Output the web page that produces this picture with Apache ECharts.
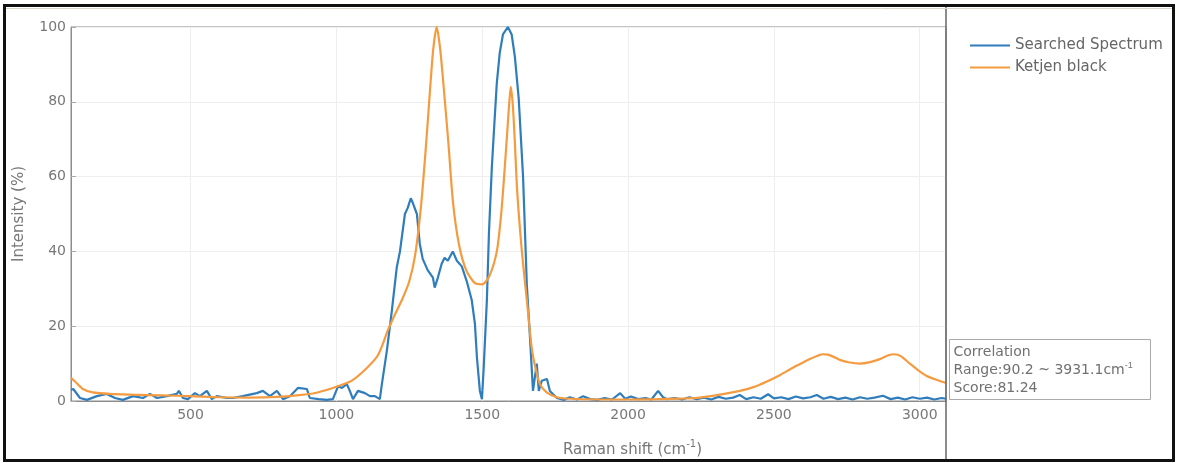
<!DOCTYPE html>
<html lang="en">
<head>
    <meta charset="UTF-8">
    <title>Raman spectrum match</title>
    <script src="https://cdn.jsdelivr.net/npm/echarts@6/dist/echarts.min.js"></script>
    <style>
        html, body { margin: 0; padding: 0; background: #fff; }
    </style>
</head>
<body>
    <div id="main" style="width: 1179px;height: 463px;"></div>
    <script>
        // searched spectrum (blue)
        var searchedShift = [
            90, 98, 121, 145, 179, 213, 241, 268, 303, 337, 361, 385, 419, 453, 460, 474, 491,
            515, 532, 556, 573, 590, 625, 645, 679, 727, 748, 772, 796, 817, 841, 868, 899, 909,
            940, 967, 988, 1006, 1019, 1036, 1046, 1057, 1074, 1098, 1115, 1132, 1149, 1156,
            1173, 1190, 1207, 1218, 1235, 1245, 1255, 1262, 1276, 1286, 1296, 1313, 1331, 1337,
            1348, 1361, 1371, 1382, 1399, 1413, 1430, 1447, 1464, 1475, 1482, 1492, 1499, 1505,
            1516, 1523, 1533, 1540, 1550, 1560, 1571, 1588, 1601, 1612, 1625, 1640, 1653, 1663,
            1674, 1687, 1694, 1704, 1722, 1732, 1756, 1780, 1800, 1825, 1846, 1870, 1895, 1920,
            1945, 1973, 1990, 2010, 2035, 2060, 2080, 2103, 2120, 2134, 2160, 2185, 2210, 2235,
            2260, 2285, 2310, 2335, 2360, 2383, 2405, 2430, 2455, 2480, 2500, 2525, 2550, 2575,
            2600, 2625, 2647, 2670, 2695, 2720, 2745, 2770, 2795, 2820, 2845, 2874, 2900, 2925,
            2950, 2975, 3000, 3025, 3050, 3075, 3090
        ];
        var searchedIntensity = [
            3.0, 3.2, 0.8, 0.3, 1.3, 1.9, 0.8, 0.3, 1.3, 0.8, 1.9, 0.8, 1.3, 1.9, 2.7, 0.8, 0.5,
            2.1, 1.3, 2.7, 0.5, 1.3, 0.8, 0.8, 1.3, 2.1, 2.7, 1.3, 2.7, 0.5, 1.3, 3.5, 3.2, 0.8,
            0.5, 0.3, 0.5, 4.0, 3.5, 4.5, 2.7, 0.5, 2.7, 2.1, 1.3, 1.3, 0.5, 4.5,
            13.4, 24, 35.7, 40, 50, 51.7, 54.2, 53, 50, 42, 38, 35, 33, 30.3,
            33, 36.7, 38.3, 37.5, 40, 37.5, 36, 32, 27, 20.6, 11.5, 2.7, 0.5, 8.8,
            27, 44.8, 62.5, 72, 85, 93, 98, 100, 98, 92, 81, 60, 31, 18,
            2.7, 10, 2.7, 5.4, 5.9, 2.7, 0.8, 0.3, 1.0, 0.4, 1.3, 0.5, 0.3, 0.8,
            0.4, 2.1, 0.6, 1.2, 0.5, 0.8, 0.4, 2.7, 1.0, 0.5, 0.8, 0.4, 1.0, 0.5,
            0.9, 0.4, 1.1, 0.6, 0.9, 1.6, 0.5, 1.0, 0.6, 1.8, 0.7, 1.0, 0.5, 1.2,
            0.7, 1.0, 1.6, 0.6, 1.1, 0.5, 0.9, 0.4, 1.0, 0.6, 0.9, 1.4, 0.5, 0.9,
            0.4, 1.0, 0.6, 0.9, 0.4, 0.8, 0.6
        ];

        // Ketjen black reference (orange)
        var ketjenShift = [
            90.2, 104, 131, 165, 224, 300, 400, 500, 600, 700, 800, 875, 920, 960, 1000, 1050,
            1100, 1143, 1177, 1200, 1228, 1250, 1270, 1290, 1305, 1320, 1332, 1344, 1356, 1370,
            1385, 1400, 1420, 1445, 1475, 1500, 1525, 1550, 1565, 1575, 1585, 1592, 1598, 1605,
            1612, 1620, 1636, 1653, 1670, 1685, 1698, 1720, 1756, 1800, 1900, 2000, 2100, 2200,
            2246, 2300, 2383, 2430, 2476, 2520, 2565, 2600, 2623, 2650, 2668, 2685, 2705, 2726,
            2760, 2794, 2830, 2863, 2895, 2914, 2935, 2966, 2995, 3024, 3060, 3090
        ];
        var ketjenIntensity = [
            6.2, 5.2, 3.2, 2.3, 1.9, 1.7, 1.5, 1.3, 1.0, 0.9, 1.1, 1.6, 2.0, 2.8, 3.8, 5.3,
            8.5, 12.3, 19, 23, 27.6, 32, 39, 52, 66, 82, 94, 100, 94, 82,
            68, 53, 42, 35, 31.5, 31.2, 33.5, 40, 50, 60, 71, 79, 84, 79,
            69, 56, 40, 27, 14, 8, 4.5, 2.4, 1.0, 0.6, 0.4, 0.4, 0.5, 0.7,
            0.9, 1.5, 2.7, 3.7, 5.2, 6.9, 8.9, 10.3, 11.2, 12.1, 12.5, 12.4, 11.8, 11.0,
            10.3, 10.0, 10.4, 11.2, 12.3, 12.5, 12.0, 10.0, 8.2, 6.7, 5.6, 4.8
        ];

        var xTicks = [500, 1000, 1500, 2000, 2500, 3000];
        var corrRange = '90.2 ~ 3931.1';
        var corrScore = '81.24';

        function pairs(xs, ys) {
            var out = [];
            for (var i = 0; i < xs.length; i++) out.push([xs[i], ys[i]]);
            return out;
        }

        var font = 'DejaVu Sans, Verdana, sans-serif';
        var myChart = echarts.init(document.getElementById('main'));

        var option = {
            animation: false,
            backgroundColor: '#fff',
            textStyle: { fontFamily: font },
            grid: {
                left: 71, right: 233, top: 27, bottom: 62,
                outerBoundsMode: 'none',
                show: true, borderColor: '#8c8c8c', borderWidth: 1
            },
            legend: {
                orient: 'vertical',
                left: 965, top: 33,
                icon: 'rect',
                itemWidth: 40, itemHeight: 2,
                itemGap: 7,
                textStyle: { color: '#666', fontSize: 15, fontFamily: font },
                data: ['Searched Spectrum', 'Ketjen black']
            },
            xAxis: {
                type: 'value',
                min: 90.2, max: 3090,
                axisLine: { show: true, lineStyle: { color: '#8c8c8c' } },
                axisTick: { show: false, customValues: xTicks },
                axisLabel: {
                    customValues: xTicks, color: '#777', fontSize: 14, margin: 7,
                    formatter: function (v) { return String(v); }
                },
                splitLine: { show: true, lineStyle: { color: '#eeeeee' } },
                name: 'Raman shift (cm{sup|-1})',
                nameLocation: 'middle',
                nameGap: 38,
                nameTextStyle: {
                    color: '#777', fontSize: 15, lineHeight: 22, padding: [0, 0, 0, 248],
                    rich: { sup: { fontSize: 10, verticalAlign: 'top', lineHeight: 10, color: '#777' } }
                }
            },
            yAxis: {
                type: 'value',
                min: 0, max: 100, interval: 20,
                axisLine: { show: true, lineStyle: { color: '#8c8c8c' } },
                axisTick: { show: true, inside: true, length: 5, lineStyle: { color: '#aaa' } },
                axisLabel: { color: '#777', fontSize: 14, margin: 5 },
                splitLine: { show: true, lineStyle: { color: '#eeeeee' } },
                name: 'Intensity (%)',
                nameLocation: 'middle',
                nameGap: 44,
                nameTextStyle: { color: '#777', fontSize: 15 }
            },
            series: [{
                name: 'Searched Spectrum',
                type: 'line',
                showSymbol: false,
                color: '#2f7dbb',
                lineStyle: { width: 2.2, color: '#2f7dbb' },
                data: pairs(searchedShift, searchedIntensity)
            }, {
                name: 'Ketjen black',
                type: 'line',
                showSymbol: false,
                smooth: 0.25,
                color: '#f59b3f',
                lineStyle: { width: 2.2, color: '#f59b3f' },
                data: pairs(ketjenShift, ketjenIntensity)
            }],
            graphic: [
                // legend panel separator and outer frame
                { type: 'line', shape: { x1: 946, y1: 5, x2: 946, y2: 459 }, style: { stroke: '#666', lineWidth: 1.5 }, z: 10 },
                { type: 'rect', shape: { x: 4.5, y: 5.5, width: 1169, height: 455 }, style: { fill: null, stroke: '#111', lineWidth: 3 }, z: 20 },
                { type: 'line', shape: { x1: 6, y1: 8.5, x2: 1172, y2: 8.5 }, style: { stroke: '#d8d6c8', lineWidth: 1 }, z: 20 },
                {
                    type: 'group', left: 949, top: 339, z: 30,
                    children: [
                        { type: 'rect', shape: { x: 0, y: 0, width: 201, height: 60 }, style: { fill: '#fff', stroke: '#aaa', lineWidth: 1 } },
                        {
                            type: 'text', x: 4, y: 4,
                            style: {
                                text: 'Correlation\nRange:' + corrRange + 'cm{sup|-1}\nScore:' + corrScore,
                                fill: '#707070', font: '14px ' + font, lineHeight: 18,
                                rich: { sup: { fontSize: 9, verticalAlign: 'top', lineHeight: 9, fill: '#707070' } }
                            }
                        }
                    ]
                }
            ]
        };

        myChart.setOption(option);
    </script>
</body>
</html>
